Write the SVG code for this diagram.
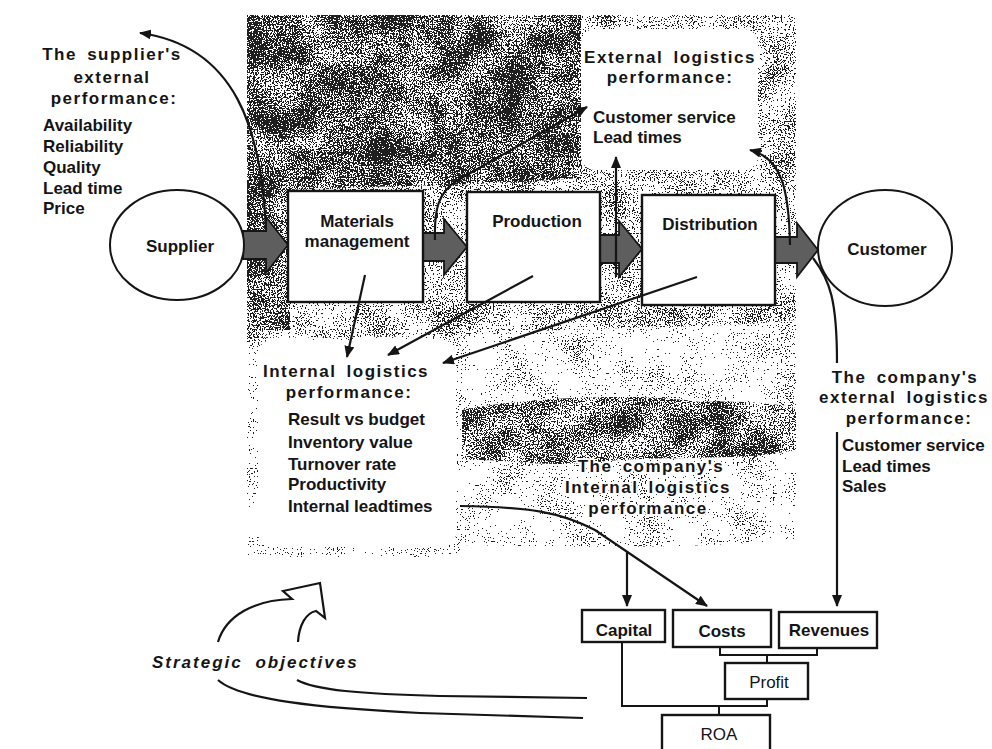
<svg xmlns="http://www.w3.org/2000/svg" width="992" height="749" viewBox="0 0 992 749">
  <defs>
    <style>
      .t { font-family: "Liberation Sans", Arial, Helvetica, sans-serif; font-size: 17px; font-weight: bold; fill: #151515; }
      .h { letter-spacing: 1.5px; word-spacing: 4px; }
      .n { font-weight: normal; }
      .c { text-anchor: middle; }
      .it { font-style: italic; letter-spacing: 2px; word-spacing: 6px; }
      .halo { paint-order: stroke; stroke: #fff; stroke-width: 4px; stroke-linejoin: round; }
      .box { fill: #fff; stroke: #151515; stroke-width: 2.4; }
      .oval { fill: #fff; stroke: #151515; stroke-width: 2; }
      .flow { fill: #5e5e5e; stroke: #151515; stroke-width: 1.8; stroke-linejoin: miter; }
      .con { fill: none; stroke: #151515; stroke-width: 2.2; }
      .arr { fill: none; stroke: #151515; stroke-width: 2.2; marker-end: url(#ah); }
      .tree { fill: none; stroke: #151515; stroke-width: 2; }
    </style>
    <marker id="ah" viewBox="0 0 12 10" refX="11" refY="5" markerWidth="12" markerHeight="10" markerUnits="userSpaceOnUse" orient="auto">
      <path d="M0,0 L12,5 L0,10 Z" fill="#151515"/>
    </marker>
    <!-- photocopy screen: fine grain lightly modulated by blotches, thresholded to dots -->
    <filter id="screenLight" x="0" y="0" width="1" height="1" color-interpolation-filters="sRGB">
      <feTurbulence type="fractalNoise" baseFrequency="0.75" numOctaves="1" seed="2" result="f0"/>
      <feColorMatrix in="f0" type="matrix" values="1 0 0 0 0  0 1 0 0 0  0 0 1 0 0  0 0 0 0 1" result="fine"/>
      <feTurbulence type="fractalNoise" baseFrequency="0.03" numOctaves="2" seed="7" result="c0"/>
      <feColorMatrix in="c0" type="matrix" values="1 0 0 0 0  0 1 0 0 0  0 0 1 0 0  0 0 0 0 1" result="coarse"/>
      <feComposite in="fine" in2="coarse" operator="arithmetic" k1="0" k2="0.85" k3="0.3" k4="-0.075" result="mix"/>
      <feColorMatrix in="mix" type="matrix" values="0 0 0 0 0.12  0 0 0 0 0.12  0 0 0 0 0.12  1 0 0 0 0" result="lum"/>
      <feComponentTransfer in="lum"><feFuncA type="discrete" tableValues="0 0 0 0 0 0 0 0 0 0 0 0 0 1 1 1 1 1 1 1"/></feComponentTransfer>
      <feComposite operator="in" in2="SourceAlpha"/>
    </filter>
    <filter id="screenMid" x="0" y="0" width="1" height="1" color-interpolation-filters="sRGB">
      <feTurbulence type="fractalNoise" baseFrequency="0.75" numOctaves="1" seed="3" result="f0"/>
      <feColorMatrix in="f0" type="matrix" values="1 0 0 0 0  0 1 0 0 0  0 0 1 0 0  0 0 0 0 1" result="fine"/>
      <feTurbulence type="fractalNoise" baseFrequency="0.03" numOctaves="2" seed="9" result="c0"/>
      <feColorMatrix in="c0" type="matrix" values="1 0 0 0 0  0 1 0 0 0  0 0 1 0 0  0 0 0 0 1" result="coarse"/>
      <feComposite in="fine" in2="coarse" operator="arithmetic" k1="0" k2="0.85" k3="0.3" k4="-0.075" result="mix"/>
      <feColorMatrix in="mix" type="matrix" values="0 0 0 0 0.12  0 0 0 0 0.12  0 0 0 0 0.12  1 0 0 0 0" result="lum"/>
      <feComponentTransfer in="lum"><feFuncA type="discrete" tableValues="0 0 0 0 0 0 0 0 0 0 0 0 1 1 1 1 1 1 1 1"/></feComponentTransfer>
      <feComposite operator="in" in2="SourceAlpha"/>
    </filter>
    <filter id="screenDense" x="0" y="0" width="1" height="1" color-interpolation-filters="sRGB">
      <feTurbulence type="fractalNoise" baseFrequency="0.75" numOctaves="1" seed="4" result="f0"/>
      <feColorMatrix in="f0" type="matrix" values="1 0 0 0 0  0 1 0 0 0  0 0 1 0 0  0 0 0 0 1" result="fine"/>
      <feTurbulence type="fractalNoise" baseFrequency="0.03" numOctaves="2" seed="11" result="c0"/>
      <feColorMatrix in="c0" type="matrix" values="1 0 0 0 0  0 1 0 0 0  0 0 1 0 0  0 0 0 0 1" result="coarse"/>
      <feComposite in="fine" in2="coarse" operator="arithmetic" k1="0" k2="0.85" k3="0.3" k4="-0.075" result="mix"/>
      <feColorMatrix in="mix" type="matrix" values="0 0 0 0 0.12  0 0 0 0 0.12  0 0 0 0 0.12  1 0 0 0 0" result="lum"/>
      <feComponentTransfer in="lum"><feFuncA type="discrete" tableValues="0 0 0 0 0 0 0 0 0 0 1 1 1 1 1 1 1 1 1 1"/></feComponentTransfer>
      <feComposite operator="in" in2="SourceAlpha"/>
    </filter>
  </defs>

  <rect width="992" height="749" fill="#fff"/>

  <!-- shaded field behind the logistics chain, with the two white panels left open -->
  <g id="shading">
    <path filter="url(#screenLight)" fill="#000" fill-rule="evenodd"
      d="M247,15 H796 V540 C700,548 600,548 460,545 V557 H247 Z
         M595,29 H744 A14,14 0 0 1 758,43 V156 A14,14 0 0 1 744,170 H595 A14,14 0 0 1 581,156 V43 A14,14 0 0 1 595,29 Z
         M272,340 H442 A14,14 0 0 1 456,354 V533 A14,14 0 0 1 442,547 H272 A14,14 0 0 1 258,533 V354 A14,14 0 0 1 272,340 Z"/>
    <path filter="url(#screenMid)" fill="#000" fill-rule="evenodd"
      d="M247,15 H796 V320 C700,330 600,325 460,336 L247,338 Z
         M595,29 H744 A14,14 0 0 1 758,43 V156 A14,14 0 0 1 744,170 H595 A14,14 0 0 1 581,156 V43 A14,14 0 0 1 595,29 Z"/>
    <path filter="url(#screenDense)" fill="#000" d="M247,15 H581 V178 C500,184 420,186 330,188 L290,190 V330 H247 Z"/>
    <path filter="url(#screenDense)" fill="#000" d="M462,410 C520,398 640,392 700,402 C740,400 780,404 796,408 V450 C740,462 650,455 600,462 C540,468 500,458 462,460 Z"/>
  </g>

  <!-- material flow arrows -->
  <g id="flow-arrows">
    <path class="flow" d="M243,231 H266 V217 L288,245 L266,273 V259 H243 Z"/>
    <path class="flow" d="M423,233 H444 V219 L467,247 L444,275 V261 H423 Z"/>
    <path class="flow" d="M600,235 H619 V221 L642,249 L619,277 V263 H600 Z"/>
    <path class="flow" d="M775,237 H797 V223 L818,250 L797,277 V263 H775 Z"/>
  </g>

  <!-- nodes -->
  <g id="node-supplier">
    <ellipse class="oval" cx="177" cy="245" rx="67" ry="55"/>
    <text class="t c" x="180" y="252">Supplier</text>
  </g>
  <g id="node-materials">
    <rect class="box" x="288" y="191" width="135" height="111"/>
    <text class="t c" x="357" y="227">Materials</text>
    <text class="t c" x="357" y="247">management</text>
  </g>
  <g id="node-production">
    <rect class="box" x="467" y="192" width="133" height="110"/>
    <text class="t c" x="537" y="227">Production</text>
  </g>
  <g id="node-distribution">
    <rect class="box" x="642" y="195" width="133" height="110"/>
    <text class="t c" x="710" y="230">Distribution</text>
  </g>
  <g id="node-customer">
    <ellipse class="oval" cx="885" cy="248" rx="67" ry="58"/>
    <text class="t c" x="887" y="255">Customer</text>
  </g>

  <g id="node-capital">
    <rect class="box" x="582" y="610" width="83" height="32"/>
    <text class="t c" x="624" y="636">Capital</text>
  </g>
  <g id="node-costs">
    <rect class="box" x="673" y="610" width="98" height="37"/>
    <text class="t c" x="722" y="637">Costs</text>
  </g>
  <g id="node-revenues">
    <rect class="box" x="779" y="612" width="98" height="36"/>
    <text class="t c" x="829" y="636">Revenues</text>
  </g>
  <g id="node-profit">
    <rect class="box" x="725" y="663" width="83" height="36"/>
    <text class="t n c" x="769" y="688">Profit</text>
  </g>
  <g id="node-roa">
    <rect class="box" x="662" y="715" width="108" height="50"/>
    <text class="t n c" x="719" y="740">ROA</text>
  </g>

  <!-- text panels -->
  <g id="supplier-performance">
    <text class="t h c" x="112" y="60">The supplier's</text>
    <text class="t h c" x="112" y="83">external</text>
    <text class="t h c" x="114" y="104">performance:</text>
    <text class="t" x="43" y="131">Availability</text>
    <text class="t" x="43" y="152">Reliability</text>
    <text class="t" x="43" y="173">Quality</text>
    <text class="t" x="43" y="194">Lead time</text>
    <text class="t" x="43" y="214">Price</text>
  </g>
  <g id="external-performance">
    <text class="t h c" x="670" y="63">External logistics</text>
    <text class="t h c" x="670" y="83">performance:</text>
    <text class="t" x="593" y="123">Customer service</text>
    <text class="t" x="593" y="143">Lead times</text>
  </g>
  <g id="internal-performance">
    <text class="t h c" x="346" y="377">Internal logistics</text>
    <text class="t h c" x="349" y="398">performance:</text>
    <text class="t" x="288" y="425">Result vs budget</text>
    <text class="t" x="288" y="448">Inventory value</text>
    <text class="t" x="288" y="470">Turnover rate</text>
    <text class="t" x="288" y="490">Productivity</text>
    <text class="t" x="288" y="512">Internal leadtimes</text>
  </g>
  <g id="company-internal">
    <text class="t h c halo" x="651" y="472">The company's</text>
    <text class="t h c halo" x="648" y="493">Internal logistics</text>
    <text class="t h c halo" x="648" y="514">performance</text>
  </g>
  <g id="company-external">
    <text class="t h c" x="905" y="383">The company's</text>
    <text class="t h c" x="904" y="403">external logistics</text>
    <text class="t h c" x="909" y="424">performance:</text>
    <text class="t" x="842" y="451">Customer service</text>
    <text class="t" x="842" y="472">Lead times</text>
    <text class="t" x="842" y="492">Sales</text>
  </g>
  <g id="strategic-objectives">
    <text class="t it" x="152" y="668">Strategic objectives</text>
  </g>

  <!-- connectors -->
  <g id="connectors">
    <path class="arr" d="M266,232 C262,130 236,46 140,33"/>
    <path class="arr" d="M435,240 C434,210 438,192 458,180 L587,107"/>
    <path class="arr" d="M616,277 V157"/>
    <path class="arr" d="M790,245 C789,190 782,158 750,150"/>
    <path class="con" d="M813,258 C830,280 837,300 837,363"/>
    <path class="arr" d="M837,432 V606"/>
    <path class="arr" d="M365,275 L347,357"/>
    <path class="arr" d="M533,276 L388,355"/>
    <path class="arr" d="M697,277 L443,363"/>
    <path class="arr" d="M460,506 C530,507 560,512 595,530 L707,606"/>
    <path class="arr" d="M627,551 V606"/>
    <path class="tree" d="M720,647 V655 H817 V648 M767,655 V663 M622,642 V706 H767 V699 M719,706 V715"/>
    <path class="con" d="M587,698 L440,696 C360,694 315,690 297,680"/>
    <path class="con" d="M583,718 L420,713 C320,708 240,700 218,680"/>
    <path class="con" stroke-linejoin="miter" d="M218,642 C226,615 255,600 292,599 L283,591 L320,583 L325,618 L316,611 C306,613 299,625 298,642"/>
  </g>
</svg>
